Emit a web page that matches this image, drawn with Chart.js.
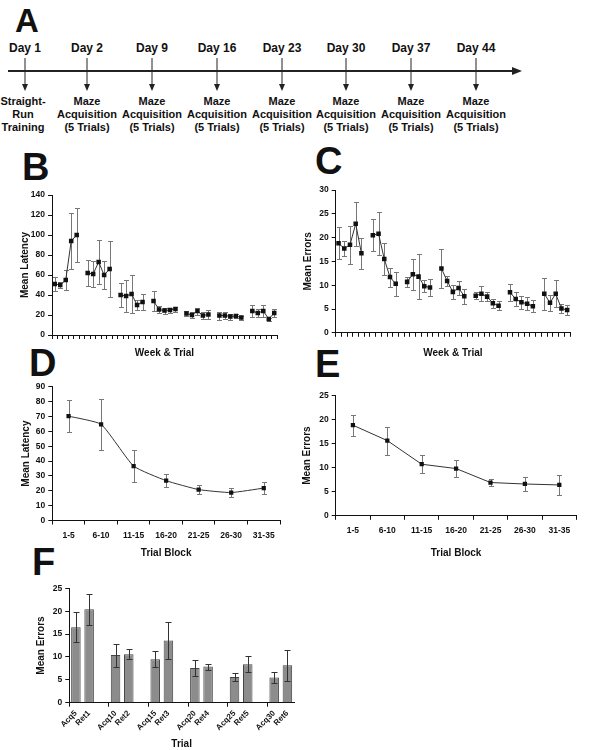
<!DOCTYPE html>
<html>
<head>
<meta charset="utf-8">
<script src="https://cdn.jsdelivr.net/npm/chart.js@4.4.0/dist/chart.umd.min.js"></script>
<style>
body{margin:0;background:#fff;font-family:"Liberation Sans",Arial,sans-serif;color:#111;}
#page{position:relative;width:600px;height:750px;overflow:hidden;}
.lbl{position:absolute;font-weight:bold;white-space:nowrap;}
.day{font-size:12px;line-height:14px;top:41px;width:60px;margin-left:-30px;text-align:center;}
.step{font-size:11px;line-height:13px;top:95px;width:80px;margin-left:-40px;text-align:center;}
.big{font-size:38px;line-height:38px;}
canvas{position:absolute;z-index:2;}
</style>
</head>
<body>
<div id="page">
  <svg id="timeline" width="600" height="100" style="position:absolute;left:0;top:0"></svg>
  <div id="panelA"></div>
  <div class="lbl big" style="left:15px;top:4px;font-size:33px;line-height:33px">A</div>
  <div class="lbl big" style="left:22px;top:148px">B</div>
  <div class="lbl big" style="left:315px;top:142px">C</div>
  <div class="lbl big" style="left:29px;top:344px">D</div>
  <div class="lbl big" style="left:315px;top:345px">E</div>
  <div class="lbl big" style="left:32px;top:543px">F</div>

  <canvas id="chartB" width="300" height="185" style="left:0;top:180px"></canvas>
  <canvas id="chartC" width="300" height="190" style="left:300px;top:175px"></canvas>
  <canvas id="chartD" width="300" height="190" style="left:0;top:375px"></canvas>
  <canvas id="chartE" width="300" height="190" style="left:300px;top:375px"></canvas>
  <canvas id="chartF" width="320" height="175" style="left:0;top:575px"></canvas>
</div>
<script>
// panel A
const dayLabels = ['Day 1', 'Day 2', 'Day 9', 'Day 16', 'Day 23', 'Day 30', 'Day 37', 'Day 44'];
const dayTasks = [['Straight-', 'Run', 'Training'], ['Maze', 'Acquisition', '(5 Trials)'], ['Maze', 'Acquisition', '(5 Trials)'],
  ['Maze', 'Acquisition', '(5 Trials)'], ['Maze', 'Acquisition', '(5 Trials)'], ['Maze', 'Acquisition', '(5 Trials)'],
  ['Maze', 'Acquisition', '(5 Trials)'], ['Maze', 'Acquisition', '(5 Trials)']];

// panel B / C: 7 weeks x 5 trials
const latencyWeek = [51, 50, 55, 94, 100, 62, 61, 73, 60, 66, 40, 39, 41, 30, 33,
  34, 25.5, 24.5, 25, 26, 21.5, 20, 24, 19.5, 20.5, 19.5, 19.5, 18.5, 19, 17.5, 24, 22, 24, 16, 22];
const latencyWeekErr = [7, 3, 10, 28, 27, 13, 13, 22, 14, 28, 12, 16, 19, 5, 8,
  10, 3.5, 3, 2.5, 2.5, 2.5, 3, 3.5, 3.5, 4.5, 4, 3.7, 3, 2, 2, 6.3, 4, 6, 1.5, 3.8];
const errorsWeek = [18.8, 17.7, 18.5, 22.9, 16.7, 20.5, 20.8, 15.5, 11.7, 10.3, 10.7, 12.3, 11.8, 9.8, 9.5,
  13.5, 10.9, 8.6, 9.4, 7.7, 7.8, 8.2, 7.6, 6.2, 5.7, 8.5, 7.1, 6.4, 6.1, 5.6, 8.2, 6.3, 8.2, 5.1, 4.8];
const errorsWeekErr = [3.4, 1.5, 4, 4.6, 3.2, 3.4, 4.5, 3.4, 2, 2.5, 1, 3.3, 4.7, 1.3, 1.7,
  4.1, 1, 1.4, 1.4, 1.6, 0.7, 1.6, 1, 1, 0.9, 1.8, 1.5, 1.4, 1.4, 1.2, 3.4, 1.7, 2.8, 0.9, 1.1];

// panel D / E
const blockLabels = ['1-5', '6-10', '11-15', '16-20', '21-25', '26-30', '31-35'];
const latencyBlock = [70.2, 64.7, 36.6, 26.8, 20.8, 18.8, 21.8];
const latencyBlockErr = [10.6, 17, 10.7, 4.3, 3, 2.8, 4];
const errorsBlock = [18.8, 15.6, 10.7, 9.8, 6.9, 6.6, 6.4];
const errorsBlockErr = [2.2, 2.9, 1.9, 1.8, 0.7, 1.5, 2.0];

// panel F
const trialLabels = ['Acq5', 'Ret1', 'Acq10', 'Ret2', 'Acq15', 'Ret3', 'Acq20', 'Ret4', 'Acq25', 'Ret5', 'Acq30', 'Ret6'];
const trialErrors = [16.5, 20.4, 10.4, 10.6, 9.5, 13.6, 7.6, 7.9, 5.6, 8.4, 5.5, 8.2];
const trialErrorsErr = [3.3, 3.4, 2.5, 1.1, 1.8, 4.0, 1.7, 0.65, 0.8, 1.75, 1.3, 3.4];

const INK = '#111';
const FONT = '"Liberation Sans", Arial, sans-serif';

// insert an empty slot after every group
function withGaps(arr, size, fill) {
  const out = [];
  arr.forEach((v, i) => {
    if (i > 0 && i % size === 0) out.push(fill);
    out.push(v);
  });
  return out;
}

// ---- timeline (panel A)
const dayX = [25, 87, 152, 217, 282, 346, 411, 476];
let svgMarkup = '<line x1="8" y1="71" x2="514" y2="71" stroke="#222" stroke-width="2"/>' +
  '<polygon points="522,71 512,67 512,75" fill="#222"/>';
dayX.forEach(x => {
  svgMarkup += `<line x1="${x}" y1="58" x2="${x}" y2="85" stroke="#222" stroke-width="1"/>`;
  svgMarkup += `<polygon points="${x},91 ${x - 3},84 ${x + 3},84" fill="#222"/>`;
});
document.getElementById('timeline').innerHTML = svgMarkup;
const panelA = document.getElementById('panelA');
dayLabels.forEach((d, i) => {
  const a = document.createElement('div');
  a.className = 'lbl day';
  a.style.left = dayX[i] + 'px';
  a.textContent = d;
  panelA.appendChild(a);
  const b = document.createElement('div');
  b.className = 'lbl step';
  b.style.left = (i === 0 ? 23 : dayX[i]) + 'px';
  b.innerHTML = dayTasks[i].join('<br>');
  panelA.appendChild(b);
});

// ---- error bars
function drawErrors(chart, opts) {
  const ctx = chart.ctx;
  const yScale = chart.scales.y;
  chart.data.datasets.forEach((ds, di) => {
    if (!ds.errors) return;
    const meta = chart.getDatasetMeta(di);
    ctx.save();
    ctx.strokeStyle = opts.color || '#777';
    ctx.lineWidth = 1;
    meta.data.forEach((el, i) => {
      const v = ds.data[i], e = ds.errors[i];
      if (v == null || e == null) return;
      const px = Math.round(el.x) + 0.5;
      const top = Math.round(yScale.getPixelForValue(v + e)) + 0.5;
      const bot = Math.round(yScale.getPixelForValue(v - e)) + 0.5;
      const w = opts.cap || 2.5;
      ctx.beginPath();
      ctx.moveTo(px, top); ctx.lineTo(px, bot);
      ctx.moveTo(px - w, top); ctx.lineTo(px + w, top);
      ctx.moveTo(px - w, bot); ctx.lineTo(px + w, bot);
      ctx.stroke();
    });
    ctx.restore();
  });
}
const errorBars = {
  id: 'errorBars',
  beforeDatasetsDraw(chart, args, opts) { if (!opts.front) drawErrors(chart, opts); },
  afterDatasetsDraw(chart, args, opts) { if (opts.front) drawErrors(chart, opts); }
};

function yAxis(max, step, title, width, titlePad) {
  return {
    min: 0, max: max,
    ticks: { stepSize: step, padding: 3, color: INK, font: { family: FONT, size: 8.5, weight: 'bold' } },
    grid: { drawOnChartArea: false, tickLength: 4, color: INK },
    border: { color: INK, width: 1 },
    title: { display: true, text: title, color: INK, font: { family: FONT, size: 10, weight: 'bold' }, padding: { top: titlePad, bottom: 0 } },
    afterFit(sc) { sc.width = width; }
  };
}
function xAxis(title, height, titlePad, showLabels) {
  return {
    offset: true,
    ticks: { display: showLabels, padding: 6, autoSkip: false, maxRotation: 0, color: INK, font: { family: FONT, size: 8.5, weight: 'bold' } },
    grid: { drawOnChartArea: false, offset: true, tickLength: 4, color: INK },
    border: { color: INK, width: 1 },
    title: { display: true, text: title, color: INK, font: { family: FONT, size: 10, weight: 'bold' }, padding: { top: 0, bottom: titlePad } },
    afterFit(sc) { sc.height = height; }
  };
}
function lineSet(data, errors, radius, tension) {
  return {
    data: data, errors: errors,
    borderColor: '#333', borderWidth: 1, tension: tension, spanGaps: false,
    pointStyle: 'rect', pointRadius: radius, pointBackgroundColor: '#111', pointBorderWidth: 0
  };
}
function lineChart(id, labels, ds, y, x, pad) {
  return new Chart(document.getElementById(id), {
    type: 'line',
    data: { labels: labels, datasets: [ds] },
    options: {
      responsive: false, animation: false, devicePixelRatio: 1,
      layout: { padding: pad },
      plugins: { legend: { display: false }, tooltip: { enabled: false }, errorBars: { color: '#777', cap: 2.5 } },
      scales: { x: x, y: y }
    },
    plugins: [errorBars]
  });
}

lineChart('chartB', withGaps(latencyWeek, 5, null).map(() => ''),
  lineSet(withGaps(latencyWeek, 5, null), withGaps(latencyWeekErr, 5, null), 3.2, 0),
  yAxis(140, 20, 'Mean Latency', 52, 19),
  xAxis('Week & Trial', 30, 6, false),
  { top: 15, right: 23, left: 0, bottom: 0 });

lineChart('chartC', withGaps(errorsWeek, 5, null).map(() => ''),
  lineSet(withGaps(errorsWeek, 5, null), withGaps(errorsWeekErr, 5, null), 3.2, 0),
  yAxis(30, 5, 'Mean Errors', 35.7, 2),
  xAxis('Week & Trial', 32.2, 6, false),
  { top: 15, right: 30, left: 0, bottom: 0 });

lineChart('chartD', blockLabels,
  lineSet(latencyBlock, latencyBlockErr, 3, 0.15),
  yAxis(90, 10, 'Mean Latency', 52.3, 20),
  xAxis('Trial Block', 44.5, 5.7, true),
  { top: 11.7, right: 20, left: 0, bottom: 0 });

lineChart('chartE', blockLabels.slice(),
  lineSet(errorsBlock, errorsBlockErr, 3, 0),
  yAxis(25, 5, 'Mean Errors', 35.7, 1.5),
  xAxis('Trial Block', 49.2, 6, true),
  { top: 20.3, right: 23.5, left: 0, bottom: 0 });

// ---- panel F bars
const fLabels = withGaps(trialLabels, 2, '');
const fx = xAxis('Trial', 47.3, 0, true);
fx.ticks.maxRotation = 45;
fx.ticks.minRotation = 45;
fx.ticks.padding = 2;
fx.ticks.font = { family: FONT, size: 8, weight: 'bold' };
fx.grid.color = c => (c.index % 3 === 0 || c.index === fLabels.length) ? INK : 'rgba(0,0,0,0)';

new Chart(document.getElementById('chartF'), {
  type: 'bar',
  data: {
    labels: fLabels,
    datasets: [{
      data: withGaps(trialErrors, 2, null),
      errors: withGaps(trialErrorsErr, 2, null),
      backgroundColor: '#8c8c8c', borderColor: '#444', borderWidth: 1,
      barPercentage: 0.72, categoryPercentage: 1
    }]
  },
  options: {
    responsive: false, animation: false, devicePixelRatio: 1,
    layout: { padding: { top: 13.3, right: 26, left: 0, bottom: 0 } },
    plugins: { legend: { display: false }, tooltip: { enabled: false }, errorBars: { color: '#333', cap: 3, front: true } },
    scales: { x: fx, y: yAxis(25, 5, 'Mean Errors', 69.3, 35.7) }
  },
  plugins: [errorBars]
});
</script>
</body>
</html>
